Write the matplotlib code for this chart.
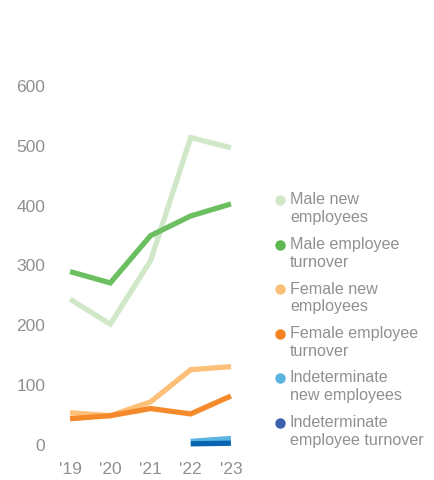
import matplotlib
matplotlib.use("Agg")
import matplotlib.pyplot as plt

years = ["'19", "'20", "'21", "'22", "'23"]
male_new = [242, 200, 306, 512, 495]
male_turnover = [288, 269, 348, 381, 401]
female_new = [52, 47, 70, 124, 129]
female_turnover = [42, 47, 59, 50, 80]
indet_new = [None, None, None, 4, 9]
indet_turnover = [None, None, None, 0, 1]

names = ["Male new\nemployees", "Male employee\nturnover", "Female new\nemployees",
         "Female employee\nturnover", "Indeterminate\nnew employees",
         "Indeterminate\nemployee turnover"]
line_colors = ["#d0e8c8", "#6cbf60", "#fdc078", "#f58a2c", "#5ab4e0", "#0864b0"]
dot_colors = ["#d0e8c8", "#5cb84f", "#fdc078", "#f58220", "#5ab4e0", "#3d5fae"]

plt.rcParams['font.family'] = ['Liberation Sans', 'DejaVu Sans']
grey = "#909090"

fig = plt.figure(figsize=(4.35, 4.81), dpi=100)
W, H = 435, 481
# axes in pixel terms: left 60, right 241, top 74, bottom 452
ax = fig.add_axes([60 / W, (H - 452) / H, 181 / W, (452 - 74) / H])

series = [male_new, male_turnover, female_new, female_turnover, indet_new, indet_turnover]
xs = list(range(len(years)))
for vals, c in zip(series, line_colors):
    px = [x for x, v in zip(xs, vals) if v is not None]
    pv = [v for v in vals if v is not None]
    ax.plot(px, pv, color=c, lw=3.8, solid_capstyle='butt', solid_joinstyle='miter', clip_on=False)

ax.set_xlim(-0.25, 4.25)
ax.set_ylim(-12, 620)
ax.set_yticks([0, 100, 200, 300, 400, 500, 600])
ax.set_xticks(xs)
ax.set_xticklabels(years)
ax.tick_params(length=0, labelsize=12.5, colors=grey)
ax.tick_params(axis='y', pad=10.5)
ax.tick_params(axis='x', pad=7)
for s in ax.spines.values():
    s.set_visible(False)

# legend, dot aligned with first text line
for i, (name, c) in enumerate(zip(names, dot_colors)):
    y = 201 + 44.5 * i
    fig.lines.append(plt.Line2D([280 / W], [(H - y) / H], marker='o', ms=6.5, color=c,
                                transform=fig.transFigure, figure=fig))
    fig.text(290 / W, (H - y + 8.5) / H, name, fontsize=11.6, color=grey, va='top', ha='left',
             linespacing=1.22)

fig.savefig("out.png", dpi=100)
